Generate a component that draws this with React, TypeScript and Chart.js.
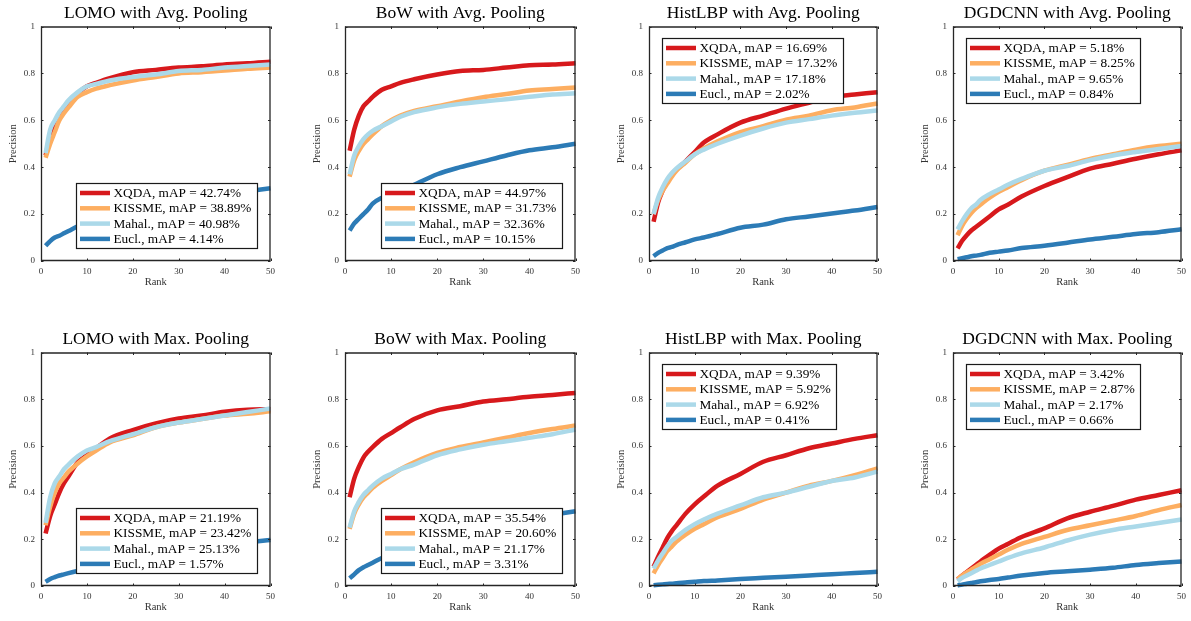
import React, { useEffect, useRef } from 'react';
import { Chart, registerables } from 'chart.js';
Chart.register(...registerables);

const FONT = '"Liberation Serif", "Times New Roman", serif';

// ---------- data ----------
const RANKS = [1, 2, 3, 4, 5, 6, 8, 10, 12, 15, 20, 25, 30, 35, 40, 45, 50];
const METHODS = ['XQDA', 'KISSME', 'Mahal.', 'Eucl.'];
const COLORS = ['#d7191c', '#fdae61', '#abd9e9', '#2c7bb6'];
const X_TICKS = [0, 10, 20, 30, 40, 50];
const Y_TICKS = [0, 0.2, 0.4, 0.6, 0.8, 1];

// LOMO with Avg. Pooling
const LOMO_AVG_XQDA = [0.45, 0.53, 0.57, 0.62, 0.645, 0.67, 0.715, 0.745, 0.76, 0.78, 0.805, 0.815, 0.825, 0.83, 0.838, 0.843, 0.85];
const LOMO_AVG_KISSME = [0.44, 0.5, 0.55, 0.6, 0.63, 0.655, 0.7, 0.72, 0.735, 0.75, 0.77, 0.785, 0.8, 0.805, 0.812, 0.82, 0.825];
const LOMO_AVG_MAHAL = [0.46, 0.56, 0.6, 0.635, 0.66, 0.685, 0.72, 0.745, 0.755, 0.77, 0.785, 0.795, 0.81, 0.815, 0.825, 0.832, 0.838];
const LOMO_AVG_EUCL = [0.065, 0.085, 0.1, 0.108, 0.118, 0.128, 0.148, 0.165, 0.18, 0.2, 0.225, 0.245, 0.26, 0.275, 0.285, 0.297, 0.31];
const LOMO_AVG_MAP = ['42.74', '38.89', '40.98', '4.14'];

// BoW with Avg. Pooling
const BOW_AVG_XQDA = [0.47, 0.56, 0.62, 0.66, 0.68, 0.7, 0.73, 0.745, 0.76, 0.775, 0.795, 0.81, 0.815, 0.825, 0.835, 0.838, 0.843];
const BOW_AVG_KISSME = [0.36, 0.43, 0.47, 0.5, 0.52, 0.54, 0.575, 0.6, 0.62, 0.64, 0.66, 0.68, 0.698, 0.712, 0.727, 0.733, 0.74];
const BOW_AVG_MAHAL = [0.37, 0.45, 0.49, 0.52, 0.54, 0.555, 0.575, 0.595, 0.615, 0.635, 0.655, 0.67, 0.68, 0.69, 0.7, 0.71, 0.715];
const BOW_AVG_EUCL = [0.13, 0.16, 0.18, 0.2, 0.22, 0.245, 0.27, 0.285, 0.3, 0.325, 0.37, 0.4, 0.425, 0.45, 0.472, 0.485, 0.5];
const BOW_AVG_MAP = ['44.97', '31.73', '32.36', '10.15'];

// HistLBP with Avg. Pooling
const LBP_AVG_XQDA = [0.167, 0.25, 0.3, 0.34, 0.37, 0.39, 0.425, 0.465, 0.505, 0.54, 0.59, 0.62, 0.65, 0.675, 0.7, 0.71, 0.72];
const LBP_AVG_KISSME = [0.2, 0.26, 0.3, 0.33, 0.36, 0.385, 0.42, 0.455, 0.48, 0.51, 0.55, 0.575, 0.603, 0.62, 0.643, 0.655, 0.672];
const LBP_AVG_MAHAL = [0.2, 0.27, 0.315, 0.35, 0.375, 0.395, 0.425, 0.455, 0.475, 0.5, 0.535, 0.565, 0.59, 0.605, 0.62, 0.632, 0.642];
const LBP_AVG_EUCL = [0.02, 0.035, 0.045, 0.055, 0.06, 0.068, 0.08, 0.092, 0.1, 0.115, 0.142, 0.155, 0.178, 0.19, 0.203, 0.215, 0.23];
const LBP_AVG_MAP = ['16.69', '17.32', '17.18', '2.02'];

// DGDCNN with Avg. Pooling
const DGD_AVG_XQDA = [0.054, 0.086, 0.11, 0.13, 0.145, 0.16, 0.19, 0.22, 0.24, 0.275, 0.32, 0.358, 0.394, 0.415, 0.436, 0.455, 0.472];
const DGD_AVG_KISSME = [0.11, 0.15, 0.18, 0.205, 0.225, 0.24, 0.27, 0.295, 0.315, 0.345, 0.385, 0.41, 0.435, 0.455, 0.475, 0.49, 0.5];
const DGD_AVG_MAHAL = [0.135, 0.17, 0.2, 0.225, 0.24, 0.26, 0.285, 0.305, 0.325, 0.35, 0.385, 0.405, 0.43, 0.45, 0.465, 0.478, 0.49];
const DGD_AVG_EUCL = [0.008, 0.012, 0.016, 0.02, 0.023, 0.026, 0.035, 0.04, 0.045, 0.055, 0.065, 0.078, 0.092, 0.103, 0.115, 0.123, 0.135];
const DGD_AVG_MAP = ['5.18', '8.25', '9.65', '0.84'];

// LOMO with Max. Pooling
const LOMO_MAX_XQDA = [0.225, 0.3, 0.35, 0.4, 0.44, 0.47, 0.53, 0.56, 0.59, 0.632, 0.668, 0.696, 0.717, 0.73, 0.746, 0.755, 0.757];
const LOMO_MAX_KISSME = [0.26, 0.34, 0.4, 0.44, 0.465, 0.49, 0.525, 0.555, 0.58, 0.615, 0.645, 0.68, 0.7, 0.715, 0.73, 0.738, 0.748];
const LOMO_MAX_MAHAL = [0.27, 0.38, 0.44, 0.47, 0.5, 0.52, 0.555, 0.58, 0.595, 0.62, 0.65, 0.68, 0.7, 0.715, 0.73, 0.745, 0.76];
const LOMO_MAX_EUCL = [0.018, 0.03, 0.038, 0.045, 0.05, 0.055, 0.065, 0.075, 0.085, 0.095, 0.115, 0.13, 0.148, 0.16, 0.175, 0.188, 0.197];
const LOMO_MAX_MAP = ['21.19', '23.42', '25.13', '1.57'];

// BoW with Max. Pooling
const BOW_MAX_XQDA = [0.38, 0.46, 0.51, 0.55, 0.575, 0.595, 0.63, 0.655, 0.68, 0.715, 0.752, 0.77, 0.79, 0.8, 0.81, 0.818, 0.827];
const BOW_MAX_KISSME = [0.245, 0.31, 0.35, 0.38, 0.4, 0.42, 0.45, 0.475, 0.5, 0.53, 0.57, 0.595, 0.615, 0.635, 0.655, 0.672, 0.687];
const BOW_MAX_MAHAL = [0.25, 0.32, 0.36, 0.39, 0.41, 0.43, 0.46, 0.48, 0.5, 0.52, 0.56, 0.585, 0.605, 0.62, 0.635, 0.65, 0.67];
const BOW_MAX_EUCL = [0.033, 0.05, 0.068, 0.08, 0.09, 0.1, 0.12, 0.135, 0.15, 0.17, 0.2, 0.23, 0.25, 0.27, 0.29, 0.305, 0.32];
const BOW_MAX_MAP = ['35.54', '20.60', '21.17', '3.31'];

// HistLBP with Max. Pooling
const LBP_MAX_XQDA = [0.083, 0.125, 0.165, 0.205, 0.235, 0.26, 0.31, 0.35, 0.383, 0.43, 0.48, 0.532, 0.56, 0.59, 0.61, 0.63, 0.646];
const LBP_MAX_KISSME = [0.054, 0.09, 0.12, 0.15, 0.17, 0.19, 0.22, 0.245, 0.265, 0.295, 0.33, 0.37, 0.4, 0.43, 0.45, 0.475, 0.504];
const LBP_MAX_MAHAL = [0.075, 0.11, 0.14, 0.17, 0.195, 0.21, 0.24, 0.265, 0.285, 0.31, 0.345, 0.38, 0.4, 0.425, 0.45, 0.465, 0.49];
const LBP_MAX_EUCL = [0.003, 0.005, 0.007, 0.009, 0.01, 0.012, 0.015, 0.018, 0.021, 0.024, 0.03, 0.035, 0.04, 0.045, 0.05, 0.056, 0.061];
const LBP_MAX_MAP = ['9.39', '5.92', '6.92', '0.41'];

// DGDCNN with Max. Pooling
const DGD_MAX_XQDA = [0.028, 0.045, 0.06, 0.075, 0.09, 0.105, 0.133, 0.16, 0.18, 0.21, 0.247, 0.29, 0.318, 0.343, 0.37, 0.39, 0.41];
const DGD_MAX_KISSME = [0.03, 0.045, 0.058, 0.07, 0.082, 0.095, 0.115, 0.135, 0.155, 0.18, 0.21, 0.24, 0.26, 0.28, 0.3, 0.325, 0.347];
const DGD_MAX_MAHAL = [0.02, 0.035, 0.045, 0.055, 0.065, 0.075, 0.09, 0.105, 0.12, 0.14, 0.165, 0.195, 0.22, 0.24, 0.255, 0.27, 0.285];
const DGD_MAX_EUCL = [0.003, 0.006, 0.01, 0.013, 0.016, 0.02, 0.026, 0.03, 0.036, 0.045, 0.056, 0.063, 0.07, 0.078, 0.09, 0.098, 0.105];
const DGD_MAX_MAP = ['3.42', '2.87', '2.17', '0.66'];

const PANELS = [
  { title: 'LOMO with Avg. Pooling', series: [LOMO_AVG_XQDA, LOMO_AVG_KISSME, LOMO_AVG_MAHAL, LOMO_AVG_EUCL], maps: LOMO_AVG_MAP, legend: 'se' },
  { title: 'BoW with Avg. Pooling', series: [BOW_AVG_XQDA, BOW_AVG_KISSME, BOW_AVG_MAHAL, BOW_AVG_EUCL], maps: BOW_AVG_MAP, legend: 'se' },
  { title: 'HistLBP with Avg. Pooling', series: [LBP_AVG_XQDA, LBP_AVG_KISSME, LBP_AVG_MAHAL, LBP_AVG_EUCL], maps: LBP_AVG_MAP, legend: 'nw' },
  { title: 'DGDCNN with Avg. Pooling', series: [DGD_AVG_XQDA, DGD_AVG_KISSME, DGD_AVG_MAHAL, DGD_AVG_EUCL], maps: DGD_AVG_MAP, legend: 'nw' },
  { title: 'LOMO with Max. Pooling', series: [LOMO_MAX_XQDA, LOMO_MAX_KISSME, LOMO_MAX_MAHAL, LOMO_MAX_EUCL], maps: LOMO_MAX_MAP, legend: 'se' },
  { title: 'BoW with Max. Pooling', series: [BOW_MAX_XQDA, BOW_MAX_KISSME, BOW_MAX_MAHAL, BOW_MAX_EUCL], maps: BOW_MAX_MAP, legend: 'se' },
  { title: 'HistLBP with Max. Pooling', series: [LBP_MAX_XQDA, LBP_MAX_KISSME, LBP_MAX_MAHAL, LBP_MAX_EUCL], maps: LBP_MAX_MAP, legend: 'nw' },
  { title: 'DGDCNN with Max. Pooling', series: [DGD_MAX_XQDA, DGD_MAX_KISSME, DGD_MAX_MAHAL, DGD_MAX_EUCL], maps: DGD_MAX_MAP, legend: 'nw' },
];

// ---------- layout ----------
const COL_LEFT = [41, 345, 649, 953];
const COL_WIDTH = [231, 232, 230, 230];
const ROW_TOP = [26, 352];
const ROW_HEIGHT = [235, 234];
const Y_AXIS_W = 36;
const X_AXIS_H = 28;
const TITLE_H = 26;
const PAD_R = 8;
const AXIS_COLOR = '#262626';
const LEG_SIZE = 13.3;

const boxLegendPlugin = {
  id: 'boxLegend',
  afterDatasetsDraw(chart: any, _args: any, opts: any) {
    const { ctx, chartArea: a, scales } = chart;
    ctx.save();
    // frame
    ctx.strokeStyle = AXIS_COLOR;
    ctx.lineWidth = 1.3;
    ctx.beginPath();
    ctx.moveTo(a.left + 0.5, a.top + 0.5);
    ctx.lineTo(a.right - 0.5, a.top + 0.5);
    ctx.lineTo(a.right - 0.5, a.bottom - 0.5);
    ctx.lineTo(a.left + 0.5, a.bottom - 0.5);
    ctx.closePath();
    ctx.stroke();
    // inward tick marks
    const TL = 2.5;
    ctx.lineWidth = 1;
    ctx.beginPath();
    for (const t of scales.x.ticks) {
      const px = Math.round(scales.x.getPixelForValue(t.value)) + 0.5;
      ctx.moveTo(px, a.bottom);
      ctx.lineTo(px, a.bottom - TL);
      ctx.moveTo(px, a.top);
      ctx.lineTo(px, a.top + TL);
    }
    for (const t of scales.y.ticks) {
      const py = Math.round(scales.y.getPixelForValue(t.value)) + 0.5;
      ctx.moveTo(a.left, py);
      ctx.lineTo(a.left + TL, py);
      ctx.moveTo(a.right, py);
      ctx.lineTo(a.right - TL, py);
    }
    ctx.stroke();

    // legend box
    const ds = chart.data.datasets;
    ctx.font = `${LEG_SIZE}px ${FONT}`;
    const textW = Math.max(...ds.map((d: any) => ctx.measureText(d.label).width));
    const w = Math.round(38 + textW + 5);
    const h = 65;
    let x0: number, y0: number;
    if (opts.pos === 'se') {
      x0 = Math.round(a.right - 14 - w);
      y0 = Math.round(a.bottom - 13 - h);
    } else {
      x0 = Math.round(a.left + 13);
      y0 = Math.round(a.top + 11);
    }
    ctx.fillStyle = '#ffffff';
    ctx.fillRect(x0, y0, w, h);
    ctx.strokeStyle = '#1a1a1a';
    ctx.lineWidth = 1.2;
    ctx.strokeRect(x0 + 0.5, y0 + 0.5, w, h);
    ds.forEach((d: any, i: number) => {
      const y = y0 + 10 + i * 15.3;
      ctx.strokeStyle = d.borderColor;
      ctx.lineWidth = 4.5;
      ctx.beginPath();
      ctx.moveTo(x0 + 4, y);
      ctx.lineTo(x0 + 34, y);
      ctx.stroke();
      ctx.fillStyle = '#000000';
      ctx.textBaseline = 'middle';
      ctx.textAlign = 'left';
      ctx.fillText(d.label, x0 + 37.5, y + 0.5);
    });
    ctx.restore();
  },
};

function Panel({ panel, col, row }: { panel: any; col: number; row: number }) {
  const ref = useRef<HTMLCanvasElement | null>(null);
  const left = COL_LEFT[col] - Y_AXIS_W;
  const top = ROW_TOP[row] - TITLE_H;
  const width = Y_AXIS_W + COL_WIDTH[col] + PAD_R;
  const height = TITLE_H + ROW_HEIGHT[row] + X_AXIS_H;

  useEffect(() => {
    if (!ref.current) return;
    const datasets = panel.series.map((vals: number[], i: number) => ({
      label: `${METHODS[i]}, mAP = ${panel.maps[i]}%`,
      data: RANKS.map((r, k) => ({ x: r, y: vals[k] })),
      borderColor: COLORS[i],
      backgroundColor: COLORS[i],
      borderWidth: 4.5,
      pointRadius: 0,
      fill: false,
      cubicInterpolationMode: 'monotone',
      order: 4 - i,
      clip: 4,
    }));
    const tickFont = { family: FONT, size: 9 };
    const chart = new Chart(ref.current, {
      type: 'line',
      data: { datasets },
      options: {
        animation: false,
        responsive: false,
        events: [],
        layout: { padding: { left: 0, right: PAD_R, top: 0, bottom: 0 } },
        plugins: {
          legend: { display: false },
          tooltip: { enabled: false },
          title: {
            display: true,
            text: panel.title,
            fullSize: false,
            color: '#000000',
            font: { family: FONT, size: 17.5, weight: 'normal', lineHeight: 1 },
            padding: { top: 4.5, bottom: 4.5 },
          },
          boxLegend: { pos: panel.legend },
        } as any,
        scales: {
          x: {
            type: 'linear',
            min: 0,
            max: 50,
            grid: { display: false, drawTicks: false },
            border: { display: false },
            ticks: { font: tickFont, color: '#333333', padding: 5, maxRotation: 0, callback: (v: any) => String(v) },
            afterBuildTicks: (s: any) => { s.ticks = X_TICKS.map((v) => ({ value: v })); },
            title: { display: true, text: 'Rank', color: '#333333', font: { family: FONT, size: 10.5, lineHeight: 1.2 }, padding: 0 },
            afterFit: (s: any) => { s.height = X_AXIS_H; },
          },
          y: {
            type: 'linear',
            min: 0,
            max: 1,
            grid: { display: false, drawTicks: false },
            border: { display: false },
            ticks: { font: tickFont, color: '#333333', padding: 6, callback: (v: any) => String(Math.round(Number(v) * 10) / 10) },
            afterBuildTicks: (s: any) => { s.ticks = Y_TICKS.map((v) => ({ value: v })); },
            title: { display: true, text: 'Precision', color: '#333333', font: { family: FONT, size: 10.5, lineHeight: 1.2 }, padding: { top: 2, bottom: 0 } },
            afterFit: (s: any) => { s.width = Y_AXIS_W; },
          },
        },
      } as any,
      plugins: [boxLegendPlugin as any],
    });
    return () => chart.destroy();
  }, [panel]);

  return (
    <canvas
      ref={ref}
      width={width}
      height={height}
      style={{ position: 'absolute', left, top, width, height }}
    />
  );
}

export default function App() {
  return (
    <div style={{ position: 'absolute', left: 0, top: 0, width: 1191, height: 621, background: '#ffffff', overflow: 'hidden' }}>
      {PANELS.map((p, i) => (
        <Panel key={i} panel={p} col={i % 4} row={Math.floor(i / 4)} />
      ))}
    </div>
  );
}
